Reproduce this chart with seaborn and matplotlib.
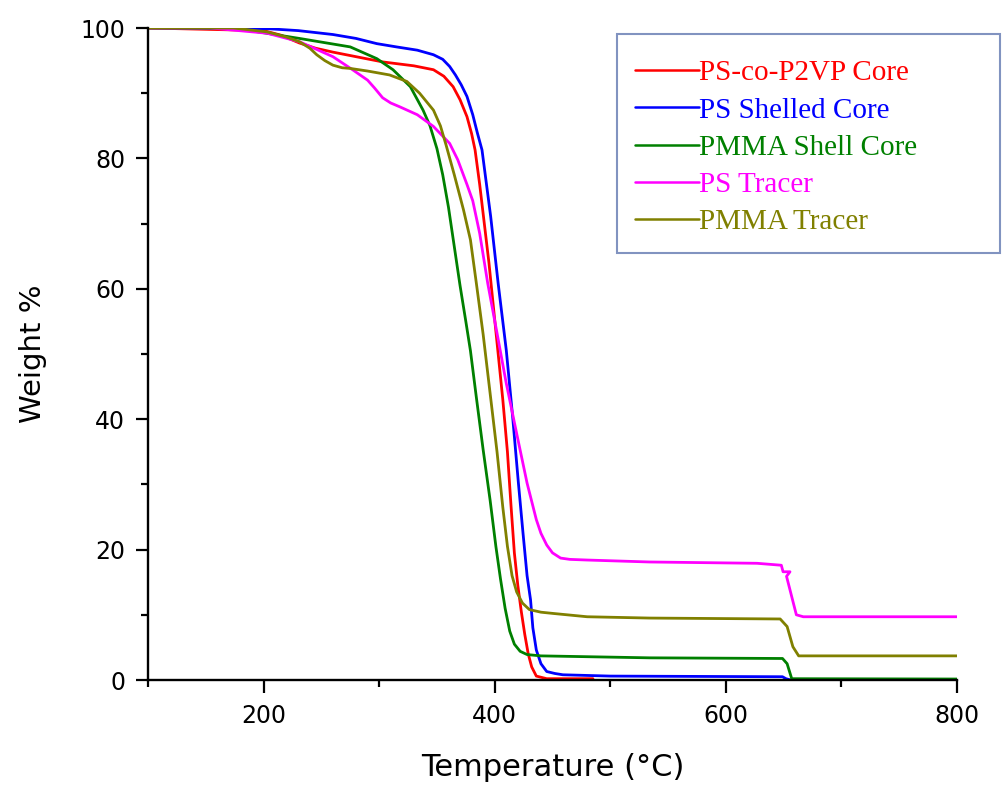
import numpy as np
import pandas as pd
import matplotlib
matplotlib.use("Agg")
import matplotlib.pyplot as plt
from matplotlib.patches import Rectangle
from matplotlib.lines import Line2D
from matplotlib.ticker import MultipleLocator
import seaborn as sns

# ---- data ----
series_names = ["PS-co-P2VP Core", "PS Shelled Core", "PMMA Shell Core", "PS Tracer", "PMMA Tracer"]
series_colors = ["#FF0000", "#0000FF", "#008000", "#FF00FF", "#808000"]

red_T = [100, 200, 215, 231, 245, 260, 280, 303, 330, 347, 356, 364, 370, 376, 380, 383, 387, 391, 395, 399,
         403, 407, 411, 414, 417, 420, 423, 426, 429, 432, 436, 445, 485]
red_W = [100, 99.6, 98.9, 97.7, 96.9, 96.3, 95.6, 94.8, 94.2, 93.6, 92.6, 91.0, 89.0, 86.4, 83.8, 81.3, 76.0, 70.0, 64.0, 57.0,
         50.0, 43.0, 35.0, 27.0, 19.5, 14.5, 10.5, 7.0, 4.0, 2.0, 0.6, 0.2, 0.2]

blue_T = [100, 203, 230, 260, 280, 298, 315, 333, 347, 355, 361, 366, 371, 376, 381, 385, 389, 396.5, 403, 410, 415.5,
          420.5, 424.5, 428, 431, 433, 436, 440, 445, 452, 459, 500, 649, 652, 656, 658]
blue_W = [100, 99.9, 99.6, 99.0, 98.4, 97.6, 97.1, 96.6, 95.9, 95.2, 94.1, 92.8, 91.3, 89.5, 86.7, 83.9, 81.3, 71.1, 60.8, 50.6, 40.4,
          30.2, 22.5, 16.0, 12.3, 8.0, 4.6, 2.5, 1.3, 1.0, 0.8, 0.6, 0.5, 0.2, 0.0, 0.0]

green_T = [100, 174, 231, 275, 298, 312, 327, 338, 344, 350, 355, 360, 365, 370, 375, 379, 384, 390, 396, 401, 405, 409,
           413, 417, 422, 428, 440, 534, 649, 653, 657, 800]
green_W = [100, 100, 98.4, 97.1, 95.3, 93.6, 91.0, 87.4, 85.0, 81.5, 77.5, 72.5, 66.5, 60.5, 55.0, 50.5, 43.5, 35.3, 27.6, 20.5, 15.5, 11.0,
           7.5, 5.5, 4.4, 3.9, 3.7, 3.4, 3.3, 2.5, 0.2, 0.15]

magenta_T = [100, 154, 203, 231, 260, 277, 290, 296, 303, 310, 318, 333, 347, 361, 368, 376, 381, 387, 394, 402, 410, 419,
             428, 436, 440, 445, 450, 457, 465, 480, 534, 627, 648, 649.5, 655.5, 652.5, 661, 667, 800]
magenta_W = [100, 100, 99.2, 97.9, 95.6, 93.6, 92.0, 90.8, 89.3, 88.5, 87.9, 86.7, 84.9, 82.3, 79.8, 76.0, 73.5, 68.5, 60.8, 53.2, 45.5, 37.8,
             30.2, 24.6, 22.5, 20.7, 19.5, 18.7, 18.5, 18.4, 18.1, 17.9, 17.6, 16.6, 16.6, 15.9, 10.0, 9.7, 9.7]

olive_T = [100, 174, 203, 220, 231, 240, 246, 253, 260, 268, 275, 290, 309, 324, 335, 347, 353, 358, 365, 373, 379, 384,
           390, 396, 402, 407, 411, 415, 419, 424, 430, 440, 451, 480, 534, 647, 653, 658, 663, 800]
olive_W = [100, 100, 99.4, 98.6, 97.9, 96.9, 95.9, 95.0, 94.3, 93.9, 93.8, 93.4, 92.8, 91.8, 90.0, 87.4, 85.0, 82.0, 77.5, 72.1, 67.5, 61.0,
           53.0, 44.0, 35.0, 26.5, 20.5, 16.0, 13.5, 11.8, 10.8, 10.4, 10.2, 9.7, 9.5, 9.36, 8.2, 5.1, 3.7, 3.7]

x_ticks = [200, 400, 600, 800]
y_ticks = [0, 20, 40, 60, 80, 100]

# ---- build long table ----
frames = []
for name, T, W in zip(series_names,
                      [red_T, blue_T, green_T, magenta_T, olive_T],
                      [red_W, blue_W, green_W, magenta_W, olive_W]):
    frames.append(pd.DataFrame({"Temperature": T, "Weight": W, "series": name}))
df = pd.concat(frames, ignore_index=True)

sns.set_style("ticks")
plt.rcParams["font.family"] = ["DejaVu Sans"]
plt.rcParams["text.color"] = "black"
plt.rcParams["axes.labelcolor"] = "black"
plt.rcParams["xtick.color"] = "black"
plt.rcParams["ytick.color"] = "black"

fig = plt.figure(figsize=(10.05, 7.87), dpi=100)
ax = fig.add_axes([148 / 1005, 1 - 680 / 787, (957 - 148) / 1005, (680 - 28) / 787])

sns.lineplot(data=df, x="Temperature", y="Weight", hue="series", units="series",
             estimator=None, sort=False, palette=dict(zip(series_names, series_colors)),
             hue_order=series_names, linewidth=2.0, legend=False, ax=ax)

ax.set_xlim(100, 800)
ax.set_ylim(0, 100)
ax.set_xticks(x_ticks)
ax.set_yticks(y_ticks)
ax.xaxis.set_minor_locator(MultipleLocator(100))
ax.yaxis.set_minor_locator(MultipleLocator(10))
for s in ["top", "right"]:
    ax.spines[s].set_visible(False)
for s in ["left", "bottom"]:
    ax.spines[s].set_linewidth(1.7)
    ax.spines[s].set_color("black")
ax.tick_params(which="major", length=9, width=1.6, labelsize=17, colors="black", direction="out")
ax.tick_params(axis="y", which="major", pad=7.5)
ax.tick_params(axis="x", which="major", pad=8)
ax.tick_params(which="minor", length=5, width=1.6, colors="black", direction="out")
ax.set_xlabel("Temperature (°C)", fontsize=22, labelpad=18, color="black")
ax.set_ylabel("Weight %", fontsize=21, labelpad=24, color="black")

# legend with box
fig.patches.append(Rectangle((617 / 1005, 1 - 253 / 787), (1000 - 617) / 1005, (253 - 34) / 787,
                             transform=fig.transFigure, fill=False, edgecolor="#8193C0",
                             linewidth=1.5, zorder=5))
handles = [Line2D([0], [0], color=c, lw=1.8) for c in series_colors]
leg = fig.legend(handles, series_names, loc="upper left", bbox_to_anchor=(635 / 1005, 1 - 60 / 787),
                 frameon=False, borderpad=0, borderaxespad=0, handlelength=2.2, handletextpad=0,
                 labelspacing=0.37, prop={"family": "Liberation Serif", "size": 21})
for t, c in zip(leg.get_texts(), series_colors):
    t.set_color(c)

fig.savefig("out.png", dpi=100)
